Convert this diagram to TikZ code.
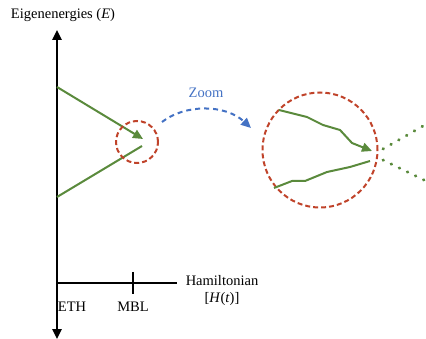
\documentclass[tikz,border=0pt]{standalone}
\usepackage{fontspec}
\setmainfont{Liberation Serif}
\usetikzlibrary{arrows.meta,positioning}
\definecolor{EnVerde}{HTML}{5A8A3C}
\definecolor{EnRojo}{HTML}{C0432A}
\definecolor{EnAzul}{HTML}{4472C4}

\begin{document}
\begin{tikzpicture}[x=1pt,y=-1pt,font=\fontsize{14.5}{17}\selectfont,>={Triangle[length=10pt,width=9pt]}]
\tikzset{
  eje/.style={line width=2.4pt,black},
  nivel/.style={line width=2pt,EnVerde},
  lupaborde/.style={circle,draw=EnRojo,line width=2pt,dash pattern=on 5pt off 3pt,inner sep=0pt},
  punteado/.style={EnVerde,line width=3pt,line cap=round,dash pattern=on 0.6pt off 8.4pt}
}
\useasboundingbox (0,0) rectangle (426,339);
% ejes
\coordinate (Earriba) at (57,30);
\coordinate (Eabajo) at (57,339);
\coordinate (origen) at (57,283);
\coordinate (Hfin) at (177,283);
\draw[eje,<->] (Eabajo) -- (Earriba);
\draw[eje] (origen) -- (Hfin);
\draw[eje] (133,272) -- (133,294);
\node (energia) at (63,15) {Eigenenergies (\textit{E})};
\node[align=center] (hamil) at (222,291) {Hamiltonian\\{}[\textit{H}(\textit{t})]};
\node (eth) at (72,307) {ETH};
\node (mbl) at (133,307) {MBL};
% niveles
\coordinate (arriba0) at (57,87);
\coordinate (arriba1) at (143,139);
\coordinate (abajo0) at (57,197);
\coordinate (abajo1) at (142,146);
\draw[nivel,->] (arriba0) -- (arriba1);
\draw[nivel] (abajo0) -- (abajo1);
\node[lupaborde,minimum size=42pt] (lupa) at (137,142) {};
% zoom
\node[lupaborde,minimum size=115pt] (lupagrande) at (320,150) {};
\coordinate (zoomIni) at (162,122);
\coordinate (zoomFin) at (251,128);
\draw[EnAzul,line width=2pt,dash pattern=on 5pt off 4pt,->] (zoomIni) .. controls (185,104) and (225,104) .. (zoomFin);
\node[text=EnAzul] (zoomlbl) at (206,93) {Zoom};
\draw[nivel,->] (279,110) -- (307,117) -- (323,125) -- (340,130) -- (352,143) -- (372,151);
\draw[nivel] (274,188) -- (292,181) -- (305,181) -- (327,172) -- (350,167) -- (370,161);
\draw[punteado] (383,149) -- (430,122);
\draw[punteado] (383,160) -- (430,183);
\end{tikzpicture}
\end{document}
